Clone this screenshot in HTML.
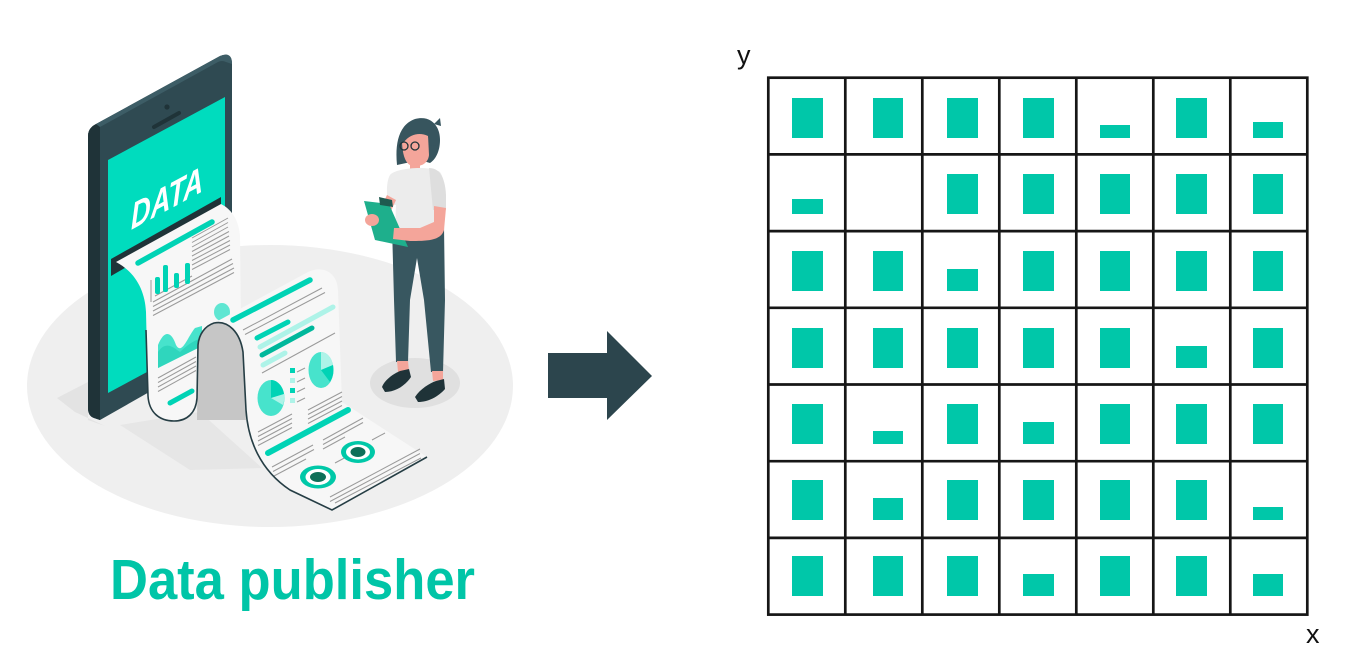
<!DOCTYPE html>
<html><head><meta charset="utf-8"><style>
html,body{margin:0;padding:0;background:#fff;width:1368px;height:662px;overflow:hidden}
svg{display:block}
</style></head><body>
<svg width="1368" height="662" viewBox="0 0 1368 662" xmlns="http://www.w3.org/2000/svg" font-family="Liberation Sans, sans-serif">
<!-- floor -->
<ellipse cx="270" cy="386" rx="243" ry="141" fill="#efefef"/>
<polygon points="57,398 88,382 88,420 105,426 75,412" fill="#e3e3e3"/>
<polygon points="120,425 200,412 262,468 190,470" fill="#e6e6e6"/>
<!-- phone -->
<path d="M88,136 Q88,128 96,124 L220,56 Q232,51 232,64 L232,345 L100,420 L94,418 Q88,416 88,408 Z" fill="#2f4a52"/>
<path d="M88,136 Q88,128 96,124 L100,126 L100,420 L94,418 Q88,416 88,408 Z" fill="#1f3338"/>
<path d="M96,124 L220,56 Q232,51 232,64 L226,62 Q222,60 218,62 L100,127 Z" fill="#3d5d66"/>
<polygon points="108,160 225,97 225,330 108,393" fill="#00dcbe"/>
<circle cx="167" cy="107" r="2.6" fill="#1f3338"/>
<line x1="154" y1="127" x2="179" y2="113" stroke="#1f3338" stroke-width="4" stroke-linecap="round"/>
<text transform="translate(131,230) skewY(-28.4)" font-size="37" font-weight="bold" font-style="italic" fill="#fff" textLength="72" lengthAdjust="spacingAndGlyphs">DATA</text>
<polygon points="111,259 221,197 221,212 111,276" fill="#1f3338"/>
<!-- sheet 1 -->
<path d="M116,262 L221,204 C233,210 239,222 240,236 L241,320 L214,323 C205,326 199,334 198,345 L197,398 C196,413 187,421 174,421 C159,421 149,412 148,396 L146,312 C145,290 135,272 116,262 Z" fill="#f7f7f7"/>
<line x1="138" y1="263" x2="212" y2="222" stroke="#00d3b5" stroke-width="5.5" stroke-linecap="round"/>
<g stroke="#9a9a9a" stroke-width="1">
<line x1="192" y1="238" x2="228" y2="218"/><line x1="192" y1="242.5" x2="228" y2="222.5"/><line x1="192" y1="247" x2="228" y2="227"/><line x1="192" y1="251.5" x2="229" y2="231.5"/><line x1="192" y1="256" x2="229" y2="236"/><line x1="192" y1="260.5" x2="230" y2="240.5"/><line x1="192" y1="265" x2="230" y2="245"/><line x1="192" y1="269.5" x2="230" y2="249.5"/>
<line x1="153" y1="302" x2="232" y2="259"/><line x1="153" y1="306.5" x2="233" y2="263.5"/><line x1="153" y1="311" x2="234" y2="268"/><line x1="153" y1="315.5" x2="234" y2="272.5"/>
<line x1="158" y1="378" x2="196" y2="357"/><line x1="158" y1="382.5" x2="196" y2="361.5"/><line x1="158" y1="387" x2="196" y2="366"/><line x1="158" y1="391.5" x2="196" y2="370.5"/>
<line x1="151" y1="280" x2="151" y2="302"/><line x1="155" y1="296" x2="192" y2="276"/>
</g>
<g fill="#00d3b5">
<rect x="155" y="277" width="5" height="17" rx="2"/><rect x="163" y="265" width="5" height="27" rx="2"/><rect x="174" y="273" width="5" height="15" rx="2"/><rect x="185" y="263" width="5" height="21" rx="2"/>
</g>
<path d="M158,368 L158,345 C165,328 172,333 176,345 C182,356 188,336 195,328 L202,326 L202,346 Z" fill="#47e3cc"/>
<path d="M158,368 L158,352 C166,340 174,348 180,352 C186,346 194,340 202,338 L202,346 Z" fill="#2fd6bd"/>
<ellipse cx="222" cy="312" rx="8" ry="9" fill="#5fe6d2"/>
<line x1="170" y1="403" x2="192" y2="391" stroke="#00d3b5" stroke-width="5" stroke-linecap="round"/>
<!-- arch interior -->
<path d="M198,345 C199,334 205,326 214,323 C228,320 240,332 243,352 L246,420 L197,420 Z" fill="#c6c6c6"/>
<!-- sheet 2 -->
<path d="M214,323 L308,272 C323,265 337,272 338,290 L342,402 L427,457 L332,510 L290,490 C260,470 248,440 246,410 L243,352 C240,332 228,320 214,323 Z" fill="#f7f7f7"/>
<line x1="233" y1="320" x2="310" y2="280" stroke="#00d3b5" stroke-width="5.5" stroke-linecap="round"/>
<g stroke="#9a9a9a" stroke-width="1">
<line x1="243" y1="330" x2="322" y2="288"/><line x1="245" y1="334.5" x2="325" y2="292.5"/>
<line x1="262" y1="373" x2="335" y2="333"/>
<line x1="297" y1="372" x2="305" y2="368"/><line x1="297" y1="382" x2="305" y2="378"/><line x1="297" y1="392" x2="305" y2="388"/><line x1="297" y1="402" x2="305" y2="398"/>
<line x1="308" y1="410" x2="342" y2="392"/><line x1="308" y1="414.5" x2="342" y2="396.5"/><line x1="308" y1="419" x2="342" y2="401"/><line x1="308" y1="423.5" x2="342" y2="405.5"/>
<line x1="258" y1="432" x2="292" y2="414"/><line x1="258" y1="436.5" x2="292" y2="418.5"/><line x1="258" y1="441" x2="292" y2="423"/><line x1="258" y1="445.5" x2="292" y2="427.5"/>
<line x1="272" y1="467" x2="313" y2="445"/><line x1="273" y1="471.5" x2="314" y2="449.5"/><line x1="274" y1="476" x2="306" y2="459"/>
<line x1="323" y1="440" x2="363" y2="418"/><line x1="323" y1="444.5" x2="363" y2="422.5"/><line x1="323" y1="449" x2="345" y2="437"/>
<line x1="330" y1="497" x2="420" y2="449"/><line x1="330" y1="501.5" x2="420" y2="453.5"/><line x1="335" y1="503" x2="421" y2="458"/>
<line x1="372" y1="440" x2="385" y2="433"/><line x1="335" y1="463" x2="350" y2="455"/>
</g>
<line x1="257" y1="338" x2="288" y2="322" stroke="#00d3b5" stroke-width="5" stroke-linecap="round"/>
<line x1="260" y1="347" x2="333" y2="307" stroke="#aef3e8" stroke-width="5" stroke-linecap="round"/>
<line x1="262" y1="355" x2="312" y2="328" stroke="#00b89c" stroke-width="5" stroke-linecap="round"/>
<line x1="263" y1="365" x2="285" y2="353" stroke="#aef3e8" stroke-width="5" stroke-linecap="round"/>
<ellipse cx="321" cy="370" rx="12.5" ry="18" fill="#47e3cc"/>
<path d="M321,370 L321,352 A12.5,18 0 0 1 333,365 Z" fill="#aef3e8"/>
<path d="M321,370 L333,365 A12.5,18 0 0 1 330,382 Z" fill="#00d3b5"/>
<ellipse cx="271" cy="398" rx="13.5" ry="18" fill="#47e3cc"/>
<path d="M271,398 L271,380 A13.5,18 0 0 1 284,394 Z" fill="#00d3b5"/>
<path d="M271,398 L284,394 A13.5,18 0 0 1 283,405 Z" fill="#aef3e8"/>
<g fill="#00d3b5"><rect x="290" y="368" width="5" height="5"/><rect x="290" y="388" width="5" height="5"/></g>
<g fill="#aef3e8"><rect x="290" y="378" width="5" height="5"/><rect x="290" y="398" width="5" height="5"/></g>
<line x1="268" y1="453" x2="348" y2="410" stroke="#00d3b5" stroke-width="6" stroke-linecap="round"/>
<ellipse cx="358" cy="452" rx="17" ry="11" fill="#00c8a8"/>
<ellipse cx="358" cy="452" rx="12" ry="7.5" fill="#fff"/>
<ellipse cx="358" cy="452" rx="7.5" ry="5" fill="#0e6f58"/>
<ellipse cx="318" cy="477" rx="18" ry="11.5" fill="#00c8a8"/>
<ellipse cx="318" cy="477" rx="12.5" ry="8" fill="#fff"/>
<ellipse cx="318" cy="477" rx="8" ry="5" fill="#0e6f58"/>
<!-- sheet outline -->
<path d="M146,330 L148,396 C149,412 159,421 174,421 C187,421 196,413 197,398 L198,345 C199,334 205,326 214,323 C228,320 240,332 243,352 L246,410 C248,440 260,470 290,490 L332,510 L427,457" fill="none" stroke="#263e45" stroke-width="1.6"/>
<!-- woman -->
<ellipse cx="415" cy="383" rx="45" ry="25" fill="#e0e0e0"/>
<path d="M392,226 L444,226 L445,300 L443,372 L431,372 L424,300 L417,258 L410,300 L408,362 L396,362 L394,300 Z" fill="#385760"/>
<polygon points="397,361 408,361 409,371 398,372" fill="#f4a59a"/>
<polygon points="432,371 443,371 443,380 433,381" fill="#f4a59a"/>
<path d="M382,387 C385,379 395,373 400,371 L409,369 L411,377 C405,386 395,392 385,392 Z" fill="#1f3338"/>
<path d="M415,397 C420,389 430,383 436,381 L444,379 L445,389 C438,397 428,402 418,402 Z" fill="#1f3338"/>
<rect x="410" y="160" width="10" height="12" fill="#f4a59a"/>
<path d="M390,175 C395,168 430,165 440,172 C446,180 446,205 445,215 L443,232 L395,232 L396,205 L388,205 C386,190 387,180 390,175 Z" fill="#ececec"/>
<path d="M429,168 C438,168 445,175 446,195 L446,210 L433,210 Z" fill="#dedede"/>
<path d="M387,195 L396,200 L386,222 L377,216 Z" fill="#f4a59a"/>
<polygon points="364,201 389,204 408,247 375,240" fill="#1eaf8c"/>
<polygon points="379,197 392,200 393,207 380,205" fill="#1f5a50"/>
<path d="M434,206 L446,208 L444,230 C441,241 426,241 410,241 L393,239 L394,228 L420,228 L434,222 Z" fill="#f4a59a"/>
<ellipse cx="372" cy="220" rx="7" ry="6" fill="#f4a59a"/>
<path d="M397,165 C395,145 398,125 415,119 C430,115 440,125 440,140 C440,152 435,160 430,163 L420,160 Z" fill="#37555e"/>
<path d="M402,140 C402,132 410,128 420,130 L428,135 L429,155 C428,165 418,168 410,165 C404,162 402,150 402,140 Z" fill="#f4a59a"/>
<path d="M399,145 C399,126 412,118 425,120 C435,122 440,130 438,145 L430,146 L428,136 C420,132 410,134 404,142 Z" fill="#37555e"/>
<path d="M434,124 L440,118 L441,126 Z" fill="#37555e"/>
<circle cx="404" cy="146" r="4" fill="none" stroke="#1f3338" stroke-width="1.3"/>
<circle cx="415" cy="146" r="4" fill="none" stroke="#1f3338" stroke-width="1.3"/>
<!-- caption -->
<text x="110" y="599" font-size="57" font-weight="bold" fill="#00c5a7" textLength="365" lengthAdjust="spacingAndGlyphs">Data publisher</text>
<!-- arrow -->
<polygon points="548,353 607,353 607,331 652,376 607,420 607,398 548,398" fill="#2c454d"/>
<!-- grid -->
<g fill="#00c7a9">
<rect x="792" y="98" width="31" height="40"/><rect x="873" y="98" width="30" height="40"/><rect x="947" y="98" width="31" height="40"/><rect x="1023" y="98" width="31" height="40"/><rect x="1100" y="125" width="30" height="13"/><rect x="1176" y="98" width="31" height="40"/><rect x="1253" y="122" width="30" height="16"/>
<rect x="792" y="199" width="31" height="15"/><rect x="947" y="174" width="31" height="40"/><rect x="1023" y="174" width="31" height="40"/><rect x="1100" y="174" width="30" height="40"/><rect x="1176" y="174" width="31" height="40"/><rect x="1253" y="174" width="30" height="40"/>
<rect x="792" y="251" width="31" height="40"/><rect x="873" y="251" width="30" height="40"/><rect x="947" y="269" width="31" height="22"/><rect x="1023" y="251" width="31" height="40"/><rect x="1100" y="251" width="30" height="40"/><rect x="1176" y="251" width="31" height="40"/><rect x="1253" y="251" width="30" height="40"/>
<rect x="792" y="328" width="31" height="40"/><rect x="873" y="328" width="30" height="40"/><rect x="947" y="328" width="31" height="40"/><rect x="1023" y="328" width="31" height="40"/><rect x="1100" y="328" width="30" height="40"/><rect x="1176" y="346" width="31" height="22"/><rect x="1253" y="328" width="30" height="40"/>
<rect x="792" y="404" width="31" height="40"/><rect x="873" y="431" width="30" height="13"/><rect x="947" y="404" width="31" height="40"/><rect x="1023" y="422" width="31" height="22"/><rect x="1100" y="404" width="30" height="40"/><rect x="1176" y="404" width="31" height="40"/><rect x="1253" y="404" width="30" height="40"/>
<rect x="792" y="480" width="31" height="40"/><rect x="873" y="498" width="30" height="22"/><rect x="947" y="480" width="31" height="40"/><rect x="1023" y="480" width="31" height="40"/><rect x="1100" y="480" width="30" height="40"/><rect x="1176" y="480" width="31" height="40"/><rect x="1253" y="507" width="30" height="13"/>
<rect x="792" y="556" width="31" height="40"/><rect x="873" y="556" width="30" height="40"/><rect x="947" y="556" width="31" height="40"/><rect x="1023" y="574" width="31" height="22"/><rect x="1100" y="556" width="30" height="40"/><rect x="1176" y="556" width="31" height="40"/><rect x="1253" y="574" width="30" height="22"/>
</g>
<g stroke="#161616" stroke-width="2.7" fill="none">
<rect x="768.3" y="77.7" width="539" height="536.9"/>
<line x1="845.3" y1="77.7" x2="845.3" y2="614.6"/><line x1="922.3" y1="77.7" x2="922.3" y2="614.6"/><line x1="999.3" y1="77.7" x2="999.3" y2="614.6"/><line x1="1076.3" y1="77.7" x2="1076.3" y2="614.6"/><line x1="1153.3" y1="77.7" x2="1153.3" y2="614.6"/><line x1="1230.3" y1="77.7" x2="1230.3" y2="614.6"/>
<line x1="768.3" y1="154.4" x2="1307.3" y2="154.4"/><line x1="768.3" y1="231.1" x2="1307.3" y2="231.1"/><line x1="768.3" y1="307.8" x2="1307.3" y2="307.8"/><line x1="768.3" y1="384.5" x2="1307.3" y2="384.5"/><line x1="768.3" y1="461.2" x2="1307.3" y2="461.2"/><line x1="768.3" y1="537.9" x2="1307.3" y2="537.9"/>
</g>
<text x="737" y="64" font-size="27" fill="#111">y</text>
<text x="1306" y="643" font-size="27" fill="#111">x</text>
</svg>
</body></html>
